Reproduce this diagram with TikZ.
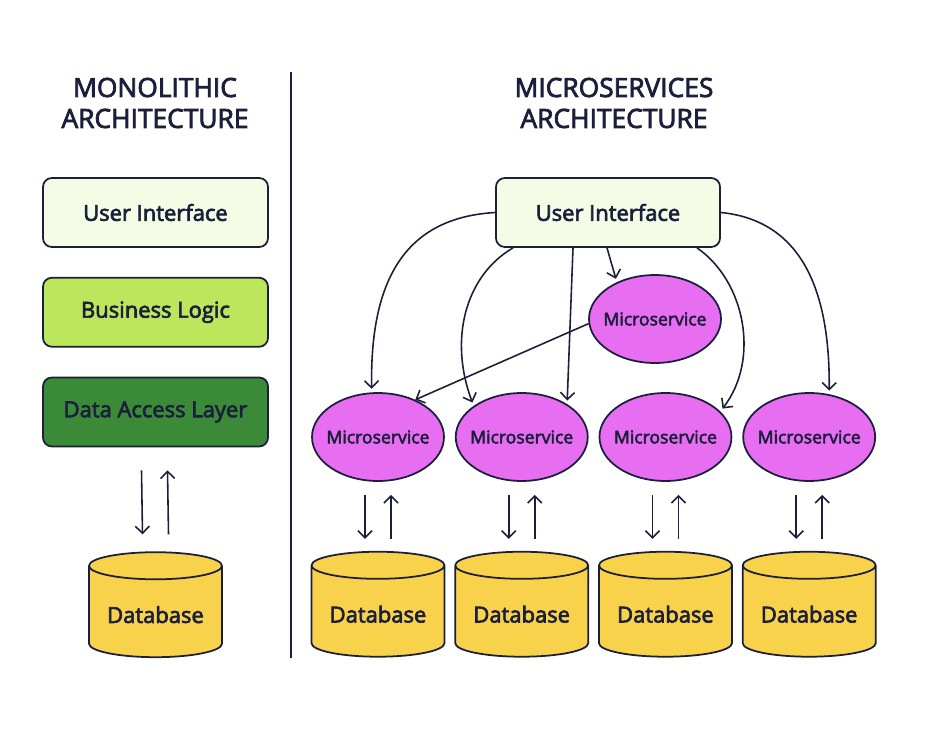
\documentclass[tikz,border=0pt]{standalone}
\usepackage{fontspec}
\setmainfont{Open Sans}[BoldFont={Open Sans}, BoldFeatures={FakeBold=3}]
\usetikzlibrary{arrows.meta,
                positioning,
                shapes.geometric
                }
\definecolor{ink}{HTML}{1B1F3B}
\definecolor{uilight}{HTML}{F5FCE6}
\definecolor{bizgreen}{HTML}{BCE65C}
\definecolor{dalgreen}{HTML}{3B8A38}
\definecolor{svcpink}{HTML}{E76EF1}
\definecolor{dbyellow}{HTML}{F7D24A}

\begin{document}
\begin{tikzpicture}[
    x=0.02cm, y=-0.02cm,
    color=ink,
    title/.style = {align=center, font=\fontsize{15}{17.6}\bfseries},
    layer/.style = {draw, line width=1pt, rounded corners=5pt,
                minimum width=4.5cm, minimum height=1.38cm,
                font=\fontsize{12.5}{14}\bfseries},
    svc/.style = {shape=ellipse, draw, line width=1pt, fill=svcpink,
                minimum width=2.64cm, minimum height=1.76cm, inner xsep=-6pt,
                font=\fontsize{10}{12}\bfseries},
    disc/.style = {shape=cylinder, draw, line width=1pt, fill=dbyellow,
                shape aspect=0.25, shape border rotate=90,
                minimum width=2.66cm, minimum height=2.1cm,
                font=\fontsize{12.5}{14}\bfseries},
    link/.style = {line width=0.9pt, -{Straight Barb[length=4pt,width=8pt]}}
                    ]
\useasboundingbox (0,0) rectangle (946,750);

% titles and divider
\node (mono)  [title] at (155,103) {MONOLITHIC\\ARCHITECTURE};
\node (micro) [title] at (614,103) {MICROSERVICES\\ARCHITECTURE};
\coordinate (divtop) at (291,72);
\coordinate (divbot) at (291,658);
\draw[line width=0.9pt] (divtop) -- (divbot);

% monolithic side
\node (ui1) [layer, fill=uilight] at (155.5,212.5) {User Interface};
\node (bl)  [layer, fill=bizgreen, below=0.58cm of ui1] {Business Logic};
\node (dal) [layer, fill=dalgreen, below=0.58cm of bl] {Data Access Layer};
\node (db0) [disc, below=2.08cm of dal.south, anchor=north] {Database};

\draw[link] ([xshift=-0.28cm, yshift=-0.46cm]dal.south) -- ([xshift=-0.26cm, yshift=0.34cm]db0.north);
\draw[link] ([xshift=0.26cm, yshift=0.34cm]db0.north) -- ([xshift=0.24cm, yshift=-0.46cm]dal.south);

% microservices side
\node (ui2)  [layer, fill=uilight, minimum width=4.48cm] at (608,212.5) {User Interface};
\node (svc0) [svc] at (655,319) {Microservice};
\node (svc1) [svc] at (378,437) {Microservice};
\node (svc2) [svc, right=0.2cm of svc1] {Microservice};
\node (svc3) [svc, right=0.2cm of svc2] {Microservice};
\node (svc4) [svc, right=0.2cm of svc3] {Microservice};

\foreach \i in {1,...,4} {
    \node (db\i) [disc, below=1.38cm of svc\i.south, anchor=north] {Database};
    \draw[link] ([xshift=-0.26cm, yshift=-0.26cm]svc\i.south) -- ([xshift=-0.26cm, yshift=0.24cm]db\i.north);
    \draw[link] ([xshift=0.26cm, yshift=0.24cm]db\i.north) -- ([xshift=0.26cm, yshift=-0.26cm]svc\i.south);
}

\draw[link, shorten >=2pt] (ui2.west) .. controls +(-86,5) and +(-2,-118) .. (svc1.98);
\draw[link, shorten >=2pt] ([xshift=-1.9cm]ui2.south) .. controls +(-48,28) and +(-25,-66) .. (svc2.147);
\draw[link, shorten >=2pt] ([xshift=-0.7cm]ui2.south) -- (svc2.36);
\draw[link, shorten >=2pt] ([xshift=-0.02cm]ui2.south) -- (svc0.136);
\draw[link, shorten >=2pt] ([xshift=1.78cm]ui2.south) .. controls +(48,33) and +(40,-52) .. (svc3.25);
\draw[link, shorten >=2pt] (ui2.east) .. controls +(80,8) and +(1,-105) .. (svc4.65);
\draw[link] (svc0.184) -- (svc1.45);

\end{tikzpicture}
\end{document}
